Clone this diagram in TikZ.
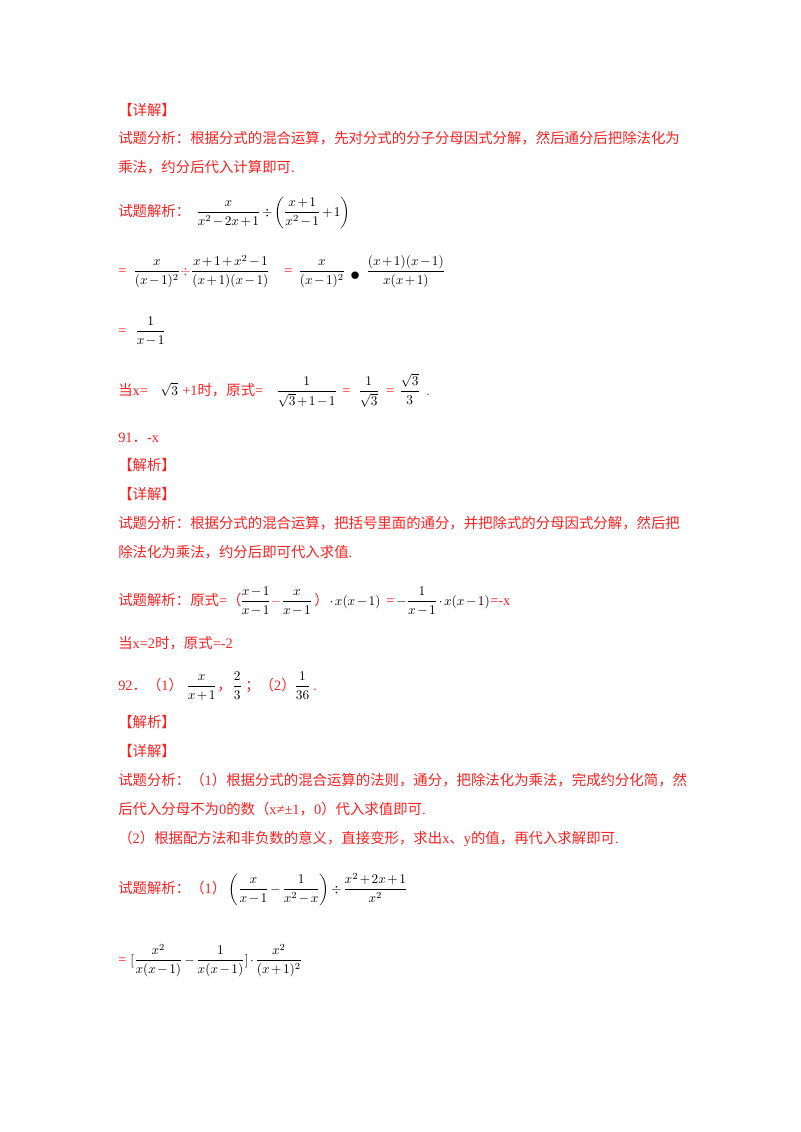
\documentclass[tikz,border=0pt]{standalone}
\usepackage{amsmath}
\usepackage{fontspec}
\setmainfont{Liberation Serif}
\newfontfamily\cn{Noto Sans CJK SC}
\definecolor{rd}{HTML}{FF2020}
\newcommand{\mset}{\medmuskip=2mu\relax\thickmuskip=3mu\relax}
\tikzset{t/.style={anchor=base west,inner sep=0pt,text=rd,font=\fontsize{10.8}{13}\selectfont\cn},
 m/.style={anchor=base west,inner sep=0pt,text=black,font=\fontsize{9.6}{12}\selectfont\mset}}
\newcommand{\rr}[1]{{\rmfamily #1}}
\begin{document}
\begin{tikzpicture}[x=0.75pt,y=-0.75pt]
\useasboundingbox (0,0) rectangle (800,1132);
\node[t] (a1) at (118,115) {【详解】};
\node[t] (a2) at (118,143) {试题分析：根据分式的混合运算，先对分式的分子分母因式分解，然后通分后把除法化为};
\node[t] (a3) at (118,172) {乘法，约分后代入计算即可\rr{.}};
\node[t] (a4) at (118,216) {试题解析：};
\node[m] (a5) at (196,216) {$\dfrac{x}{x^2-2x+1}\div\left(\dfrac{x+1}{x^2-1}+1\right)$};
\node[t] (b0) at (118,275) {\rr{=}};
\node[m] (b1) at (133,275) {$\dfrac{x}{(x-1)^2}\textcolor{rd}{\div}\dfrac{x+1+x^2-1}{(x+1)(x-1)}$};
\node[t] (b2) at (284,275) {\rr{=}};
\node[m] (b3) at (298,275) {$\dfrac{x}{(x-1)^2}$};
\node[m,font=\Large] (b4) at (350,280) {$\bullet$};
\node[m] (b5) at (366,275) {$\dfrac{(x+1)(x-1)}{x(x+1)}$};
\node[t] (c0) at (118,335) {\rr{=}};
\node[m] (c1) at (135,335) {$\dfrac{1}{x-1}$};
\node[t] (d0) at (118,395) {当\rr{x=}};
\node[m] (d1) at (160,395) {$\sqrt{3}$};
\node[t] (d2) at (182,395) {\rr{+1}时，原式\rr{=}};
\node[m] (d3) at (276,395) {$\dfrac{1}{\sqrt{3}+1-1}$};
\node[t] (d4) at (342,395) {\rr{=}};
\node[m] (d5) at (358,395) {$\dfrac{1}{\sqrt{3}}$};
\node[t] (d6) at (386,395) {\rr{=}};
\node[m] (d7) at (399,395) {$\dfrac{\sqrt{3}}{3}$};
\node[t] (d8) at (426,395) {\rr{.}};
\node[t] (e1) at (118,442) {\rr{91}．\rr{-x}};
\node[t] (e2) at (118,470) {【解析】};
\node[t] (e3) at (118,499) {【详解】};
\node[t] (e4) at (118,528) {试题分析：根据分式的混合运算，把括号里面的通分，并把除式的分母因式分解，然后把};
\node[t] (e5) at (118,557) {除法化为乘法，约分后即可代入求值\rr{.}};
\node[t] (f0) at (118,605) {试题解析：原式\rr{=}（};
\node[m] (f1) at (240,605) {$\dfrac{x-1}{x-1}\textcolor{rd}{-}\dfrac{x}{x-1}$};
\node[t] (f2) at (314,605) {）};
\node[m] (f3) at (328,605) {${}\cdot x(x-1)$};
\node[t] (f4) at (386,605) {\rr{=}};
\node[m] (f5) at (396,605) {$-\dfrac{1}{x-1}\cdot x(x-1)$};
\node[t] (f6) at (490,605) {\rr{=-x}};
\node[t] (g1) at (118,648) {当\rr{x=2}时，原式\rr{=-2}};
\node[t] (h0) at (118,690) {\rr{92}．（\rr{1}）};
\node[m] (h1) at (186,690) {$\dfrac{x}{x+1}$};
\node[t] (h2) at (217,690) {，};
\node[m] (h3) at (232,690) {$\dfrac{2}{3}$};
\node[t] (h4) at (245,690) {；（\rr{2}）};
\node[m] (h5) at (294,690) {$\dfrac{1}{36}$};
\node[t] (h6) at (313,690) {\rr{.}};
\node[t] (i1) at (118,727) {【解析】};
\node[t] (i2) at (118,756) {【详解】};
\node[t] (i3) at (118,785) {试题分析：（\rr{1}）根据分式的混合运算的法则，通分，把除法化为乘法，完成约分化简，然};
\node[t] (i4) at (118,814) {后代入分母不为\rr{0}的数（\rr{x≠±1}，\rr{0}）代入求值即可\rr{.}};
\node[t] (i5) at (118,843) {（\rr{2}）根据配方法和非负数的意义，直接变形，求出\rr{x}、\rr{y}的值，再代入求解即可\rr{.}};
\node[t] (j0) at (118,893) {试题解析：（\rr{1}）};
\node[m] (j1) at (228,893) {$\left(\dfrac{x}{x-1}-\dfrac{1}{x^2-x}\right)\div\dfrac{x^2+2x+1}{x^2}$};
\node[t] (k0) at (118,964) {\rr{=}};
\node[m] (k1) at (130,964) {$[\dfrac{x^2}{x(x-1)}-\dfrac{1}{x(x-1)}]\cdot\dfrac{x^2}{(x+1)^2}$};
\end{tikzpicture}
\end{document}
